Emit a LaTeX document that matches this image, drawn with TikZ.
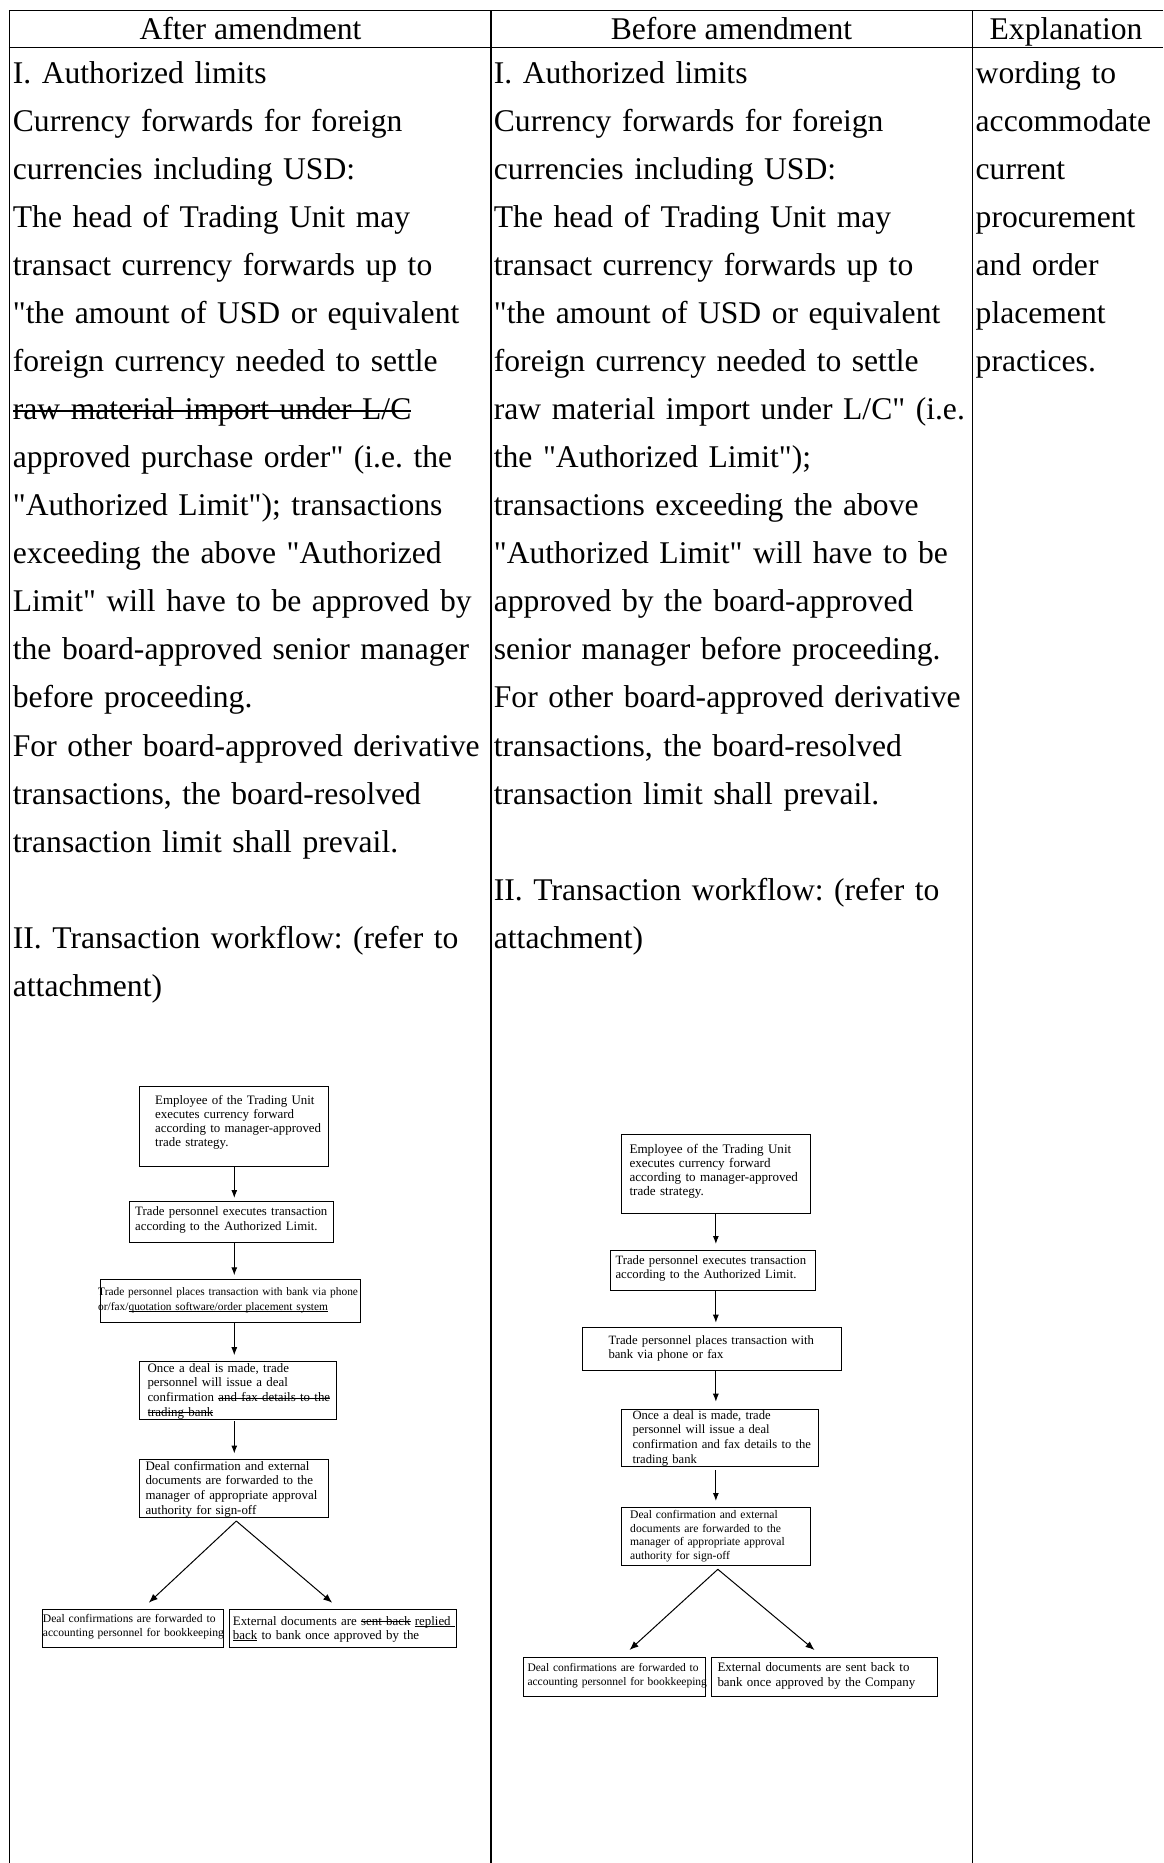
\documentclass[tikz,border=0pt]{standalone}
\usepackage{fontspec}
\setmainfont{Liberation Serif}
\newfontfamily\lib{Liberation Serif}
\usetikzlibrary{arrows.meta}
\frenchspacing
\newcommand\fsz[2]{\lib\fontsize{#1}{#2}\selectfont\frenchspacing}
\newcommand\rulebox[3]{\leavevmode\setbox0\hbox{#3}\rlap{\rule[#2]{\wd0}{#1}}\box0\relax}
\newcommand\strk[1]{\rulebox{1.6pt}{0.24em}{#1}}
\newcommand\fstrk[1]{\rulebox{0.9pt}{0.24em}{#1}}
\newcommand\fund[1]{\rulebox{0.8pt}{-0.14em}{#1}}
\begin{document}
\begin{tikzpicture}[x=1pt,y=-1pt,
  tline/.style={line width=1.5pt},
  hdr/.style={anchor=base, inner sep=0pt, font=\fsz{31.6}{48.05}},
  body/.style={anchor=base west, inner sep=0pt, align=left, text width=#1, font=\fsz{31.6}{48.05}},
  body/.default=478pt,
  fbox/.style={draw, line width=1pt, anchor=north west, inner sep=0pt},
  ftxt/.style 2 args={anchor=base west, inner sep=0pt, align=left, text width=320pt, font=\fsz{#1}{#2}},
  arr/.style={-{Latex[length=8pt,width=6pt]}, line width=1pt},
  darr/.style={-{Latex[length=9pt,width=7pt]}, line width=1pt}]
\useasboundingbox (0,0) rectangle (1163,1863);
% table grid
\draw[tline] (8.8,10.5) -- (1163,10.5);
\draw[tline] (8.8,47.5) -- (1163,47.5);
\draw[tline] (9.5,10.5) -- (9.5,1863);
\draw[tline] (491,10.5) -- (491,1863);
\draw[tline] (972.7,10.5) -- (972.7,1863);
% headers
\node[hdr] (h1) at (250.5,39) {After amendment};
\node[hdr] (h2) at (731.5,39) {Before amendment};
\node[hdr] (h3) at (1066,39) {Explanation};
% left column
\node[body] (a1) at (12.7,83.3) {I. Authorized limits\\
Currency forwards for foreign\\
currencies including USD:\\
The head of Trading Unit may\\
transact currency forwards up to\\
"the amount of USD or equivalent\\
foreign currency needed to settle\\
\strk{raw material import under L/C}\\
approved purchase order" (i.e. the\\
"Authorized Limit"); transactions\\
exceeding the above "Authorized\\
Limit" will have to be approved by\\
the board-approved senior manager\\
before proceeding.\\
For other board-approved derivative\\
transactions, the board-resolved\\
transaction limit shall prevail.};
\node[body] (a2) at (12.7,948.2) {II. Transaction workflow: (refer to\\
attachment)};
% middle column
\node[body] (b1) at (493.7,83.3) {I. Authorized limits\\
Currency forwards for foreign\\
currencies including USD:\\
The head of Trading Unit may\\
transact currency forwards up to\\
"the amount of USD or equivalent\\
foreign currency needed to settle\\
raw material import under L/C" (i.e.\\
the "Authorized Limit");\\
transactions exceeding the above\\
"Authorized Limit" will have to be\\
approved by the board-approved\\
senior manager before proceeding.\\
For other board-approved derivative\\
transactions, the board-resolved\\
transaction limit shall prevail.};
\node[body] (b2) at (493.7,900.15) {II. Transaction workflow: (refer to\\
attachment)};
% right column
\node[body=186pt] (c1) at (975.5,83.3) {wording to\\
accommodate\\
current\\
procurement\\
and order\\
placement\\
practices.};
% ---------- left flowchart ----------
\node[fbox, minimum width=189pt, minimum height=80.3pt] (L1) at (139.3,1085.7) {};
\node[ftxt={12.9}{14.2}] (L1t) at (155,1104.3) {Employee of the Trading Unit\\
executes currency forward\\
according to manager-approved\\
trade strategy.};
\node[fbox, minimum width=204.3pt, minimum height=40.7pt] (L2) at (129,1201) {};
\node[ftxt={12.8}{14.3}] (L2t) at (135,1215.7) {Trade personnel executes transaction\\
according to the Authorized Limit.};
\node[fbox, minimum width=260pt, minimum height=43pt] (L3) at (100,1279.3) {};
\node[ftxt={11.4}{14.7}] (L3t) at (98,1295.3) {Trade personnel places transaction with bank via phone\\
or/fax/\fund{quotation software/order placement system}};
\node[fbox, minimum width=196.7pt, minimum height=58pt] (L4) at (139.3,1360.7) {};
\node[ftxt={12.9}{14.6}] (L4t) at (147.3,1372.3) {Once a deal is made, trade\\
personnel will issue a deal\\
confirmation \fstrk{and fax details to the}\\
\fstrk{trading bank}};
\node[fbox, minimum width=189pt, minimum height=58pt] (L5) at (139.3,1459) {};
\node[ftxt={12.9}{14.7}] (L5t) at (145.3,1470) {Deal confirmation and external\\
documents are forwarded to the\\
manager of appropriate approval\\
authority for sign-off};
\node[fbox, minimum width=181.6pt, minimum height=38.6pt] (L6) at (41.7,1608.7) {};
\node[ftxt={11.6}{14}] (L6t) at (42.7,1622.7) {Deal confirmations are forwarded to\\
accounting personnel for bookkeeping};
\node[fbox, minimum width=226.4pt, minimum height=38.6pt] (L7) at (229.3,1608.7) {};
\node[ftxt={12.9}{14.3}] (L7t) at (232.7,1625) {External documents are \fstrk{sent back} \fund{replied\ }\\
\fund{back} to bank once approved by the};
\draw[arr, shorten >=3pt] (L1.south) -- (L1.south |- L2.north);
\draw[arr, shorten >=4pt] (L1.south |- L2.south) -- (L1.south |- L3.north);
\draw[arr, shorten >=5.5pt] (L1.south |- L3.south) -- (L1.south |- L4.north);
\draw[arr, shorten >=5.5pt, shorten <=1.5pt] (L1.south |- L4.south) -- (L1.south |- L5.north);
\draw[darr] ([xshift=2pt,yshift=-3pt]L5.south) -- ([xshift=15.8pt,yshift=6pt]L6.north);
\draw[darr] ([xshift=2pt,yshift=-3pt]L5.south) -- ([xshift=-10.8pt,yshift=6pt]L7.north);
% ---------- right flowchart ----------
\node[fbox, minimum width=189.3pt, minimum height=79.3pt] (R1) at (620.7,1134) {};
\node[ftxt={13.1}{14.2}] (R1t) at (629.3,1153.3) {Employee of the Trading Unit\\
executes currency forward\\
according to manager-approved\\
trade strategy.};
\node[fbox, minimum width=205pt, minimum height=40pt] (R2) at (610,1250) {};
\node[ftxt={12.7}{14.3}] (R2t) at (615.3,1264) {Trade personnel executes transaction\\
according to the Authorized Limit.};
\node[fbox, minimum width=259.3pt, minimum height=42.7pt] (R3) at (581.7,1327.3) {};
\node[ftxt={12.7}{14.3}] (R3t) at (608.3,1344) {Trade personnel places transaction with\\
bank via phone or fax};
\node[fbox, minimum width=197.3pt, minimum height=57.3pt] (R4) at (620.7,1409) {};
\node[ftxt={12.6}{14.8}] (R4t) at (632.3,1419) {Once a deal is made, trade\\
personnel will issue a deal\\
confirmation and fax details to the\\
trading bank};
\node[fbox, minimum width=189.3pt, minimum height=58pt] (R5) at (620.7,1507.3) {};
\node[ftxt={11.6}{13.7}] (R5t) at (630,1518.3) {Deal confirmation and external\\
documents are forwarded to the\\
manager of appropriate approval\\
authority for sign-off};
\node[fbox, minimum width=182pt, minimum height=38.7pt] (R6) at (522.7,1657) {};
\node[ftxt={11.5}{14}] (R6t) at (527.3,1671.7) {Deal confirmations are forwarded to\\
accounting personnel for bookkeeping};
\node[fbox, minimum width=226pt, minimum height=38.7pt] (R7) at (711.3,1657) {};
\node[ftxt={12.9}{15}] (R7t) at (717.3,1671) {External documents are sent back to\\
bank once approved by the Company};
\draw[arr, shorten >=6pt] (R1.south) -- (R1.south |- R2.north);
\draw[arr, shorten >=4.6pt] (R1.south |- R2.south) -- (R1.south |- R3.north);
\draw[arr, shorten >=7.3pt] (R1.south |- R3.south) -- (R1.south |- R4.north);
\draw[arr, shorten >=6.3pt, shorten <=2.7pt] (R1.south |- R4.south) -- (R1.south |- R5.north);
\draw[darr] ([xshift=2pt,yshift=-3pt]R5.south) -- ([xshift=15.3pt,yshift=7pt]R6.north);
\draw[darr] ([xshift=2pt,yshift=-3pt]R5.south) -- ([xshift=-10.3pt,yshift=7pt]R7.north);
\end{tikzpicture}
\end{document}
